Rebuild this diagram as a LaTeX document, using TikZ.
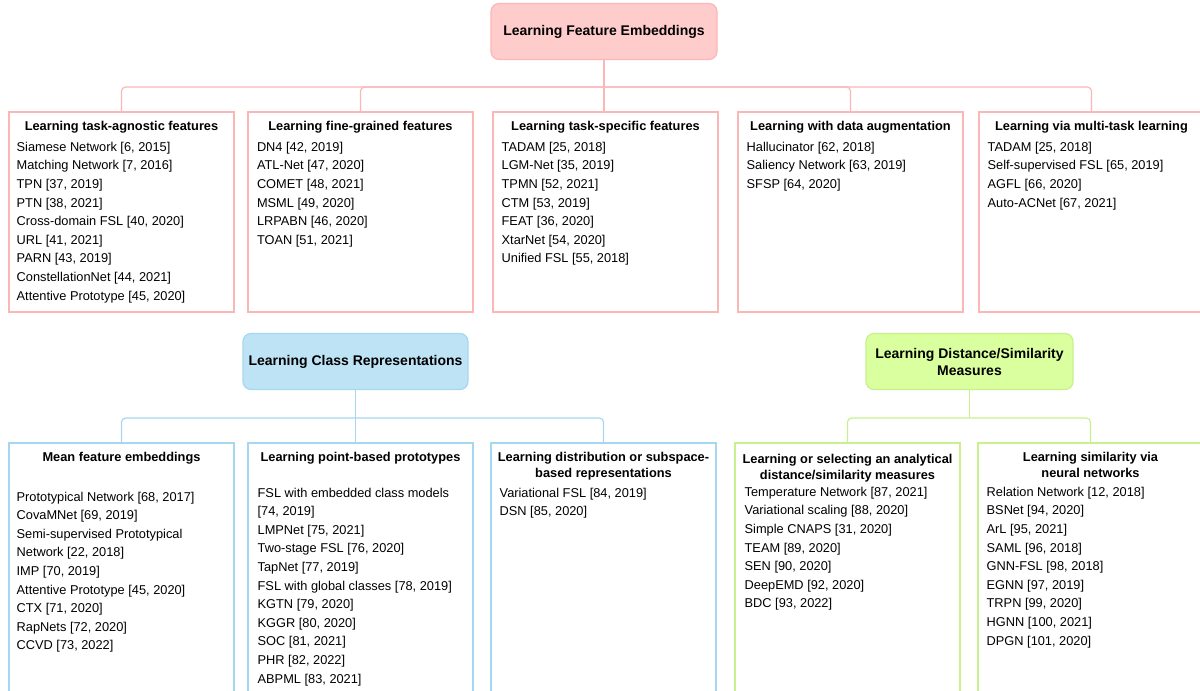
\documentclass[tikz,border=0pt]{standalone}
\usepackage{fontspec}
\setmainfont{Liberation Sans}
\usetikzlibrary{positioning}

\definecolor{pinkfill}{HTML}{FFCCCC}
\definecolor{pinkline}{HTML}{FBB6B6}
\definecolor{bluefill}{HTML}{BEE3F5}
\definecolor{blueline}{HTML}{A6D7F0}
\definecolor{greenfill}{HTML}{DAFF9E}
\definecolor{greenline}{HTML}{C8F08C}

\begin{document}
\begin{tikzpicture}[
  x=0.75pt, y=-0.75pt,
  root/.style={rectangle, rounded corners=6pt, draw=#1line, fill=#1fill, line width=0.9pt,
               minimum height=42pt, align=center, inner sep=2pt,
               font=\bfseries\fontsize{10.5}{12.75}\selectfont},
  group/.style={rectangle, draw=#1line, line width=0.9pt, minimum width=168.75pt, inner sep=0pt},
  head/.style={align=center, inner sep=0pt, font=\bfseries\fontsize{9.6}{12}\selectfont},
  items/.style={align=left, inner sep=0pt, font=\fontsize{9.6}{13.95}\selectfont},
  link/.style={draw=#1line, line width=0.9pt, rounded corners=3pt}
]
\useasboundingbox (0,0) rectangle (1200,691);

% roots
\node[root=pink, minimum width=169.5pt]   (feat)   at (604,31.5)    {Learning Feature Embeddings};
\node[root=blue, minimum width=168.75pt]  (clsrep) at (355.5,361.5) {Learning Class Representations};
\node[root=green, minimum width=155.25pt] (simm)   at (969.5,361.5) {Learning Distance/Similarity\\Measures};

% feature embeddings
\node[group=pink, minimum height=150pt] (agn)  at (121.5,212)  {};
\node[group=pink, minimum height=150pt] (fine) at (360.5,212)  {};
\node[group=pink, minimum height=150pt] (spec) at (605.5,212)  {};
\node[group=pink, minimum height=150pt] (aug)  at (850.5,212)  {};
\node[group=pink, minimum height=150pt] (mtl)  at (1091.5,212) {};

\node[head, below=5.5pt of agn.north]  (agn-head)  {\strut Learning task-agnostic features};
\node[head, below=5.5pt of fine.north] (fine-head) {\strut Learning fine-grained features};
\node[head, below=5.5pt of spec.north] (spec-head) {\strut Learning task-specific features};
\node[head, below=5.5pt of aug.north]  (aug-head)  {\strut Learning with data augmentation};
\node[head, below=5.5pt of mtl.north]  (mtl-head)  {\strut Learning via multi-task learning};

\node[items, below right=20pt and 6pt of agn.north west] (agn-list)
  {\strut Siamese Network [6, 2015]\\Matching Network [7, 2016]\\TPN [37, 2019]\\PTN [38, 2021]\\
   Cross-domain FSL [40, 2020]\\URL [41, 2021]\\PARN [43, 2019]\\ConstellationNet [44, 2021]\\
   Attentive Prototype [45, 2020]};
\node[items, below right=20pt and 7pt of fine.north west] (fine-list)
  {\strut DN4 [42, 2019]\\ATL-Net [47, 2020]\\COMET [48, 2021]\\MSML [49, 2020]\\
   LRPABN [46, 2020]\\TOAN [51, 2021]};
\node[items, below right=20pt and 6.75pt of spec.north west] (spec-list)
  {\strut TADAM [25, 2018]\\LGM-Net [35, 2019]\\TPMN [52, 2021]\\CTM [53, 2019]\\
   FEAT [36, 2020]\\XtarNet [54, 2020]\\Unified FSL [55, 2018]};
\node[items, below right=20pt and 6.75pt of aug.north west] (aug-list)
  {\strut Hallucinator [62, 2018]\\Saliency Network [63, 2019]\\SFSP [64, 2020]};
\node[items, below right=20pt and 6.75pt of mtl.north west] (mtl-list)
  {\strut TADAM [25, 2018]\\Self-supervised FSL [65, 2019]\\AGFL [66, 2020]\\Auto-ACNet [67, 2021]};

% class representations
\node[group=blue, minimum height=195pt] (mean)  at (121.5,573) {};
\node[group=blue, minimum height=195pt] (point) at (360.5,573) {};
\node[group=blue, minimum height=195pt] (dist)  at (603.5,573) {};

\node[head, below=5.5pt of mean.north]  (mean-head)  {\strut Mean feature embeddings};
\node[head, below=5.5pt of point.north] (point-head) {\strut Learning point-based prototypes};
\node[head, below=5.5pt of dist.north]  (dist-head)  {\strut Learning distribution or subspace-\\based representations};

\node[items, below right=34pt and 6pt of mean.north west] (mean-list)
  {\strut Prototypical Network [68, 2017]\\CovaMNet [69, 2019]\\Semi-supervised Prototypical\\
   Network [22, 2018]\\IMP [70, 2019]\\Attentive Prototype [45, 2020]\\CTX [71, 2020]\\
   RapNets [72, 2020]\\CCVD [73, 2022]};
\node[items, below right=31pt and 7.5pt of point.north west] (point-list)
  {\strut FSL with embedded class models\\{}[74, 2019]\\LMPNet [75, 2021]\\Two-stage FSL [76, 2020]\\
   TapNet [77, 2019]\\FSL with global classes [78, 2019]\\KGTN [79, 2020]\\KGGR [80, 2020]\\
   SOC [81, 2021]\\PHR [82, 2022]\\ABPML [83, 2021]};
\node[items, below right=31pt and 6.75pt of dist.north west] (dist-list)
  {\strut Variational FSL [84, 2019]\\DSN [85, 2020]};

% distance / similarity
\node[group=green, minimum height=195pt] (anly) at (847.5,573)  {};
\node[group=green, minimum height=195pt] (neur) at (1090.5,573) {};

\node[head, below=7pt of anly.north]   (anly-head) {\strut Learning or selecting an analytical\\distance/similarity measures};
\node[head, below=5.5pt of neur.north] (neur-head) {\strut Learning similarity via\\neural networks};

\node[items, below right=30.5pt and 7.5pt of anly.north west] (anly-list)
  {\strut Temperature Network [87, 2021]\\Variational scaling [88, 2020]\\Simple CNAPS [31, 2020]\\
   TEAM [89, 2020]\\SEN [90, 2020]\\DeepEMD [92, 2020]\\BDC [93, 2022]};
\node[items, below right=30.5pt and 6.75pt of neur.north west] (neur-list)
  {\strut Relation Network [12, 2018]\\BSNet [94, 2020]\\ArL [95, 2021]\\SAML [96, 2018]\\
   GNN-FSL [98, 2018]\\EGNN [97, 2019]\\TRPN [99, 2020]\\HGNN [100, 2021]\\DPGN [101, 2020]};

% connectors
\coordinate[below=20.25pt of feat.south] (feat-bus);
\coordinate[below=21pt of clsrep.south] (clsrep-bus);
\coordinate[below=21pt of simm.south] (simm-bus);

\draw[link=pink] (feat.south) -- (feat.south |- spec.north);
\foreach \c in {agn,fine,aug,mtl}
  \draw[link=pink] (feat-bus) -| (\c.north);

\draw[link=blue] (clsrep.south) -- (clsrep.south |- point.north);
\foreach \c in {mean,dist}
  \draw[link=blue] (clsrep-bus) -| (\c.north);

\draw[link=green] (simm.south) -- (simm-bus);
\foreach \c in {anly,neur}
  \draw[link=green] (simm-bus) -| (\c.north);

\end{tikzpicture}
\end{document}
